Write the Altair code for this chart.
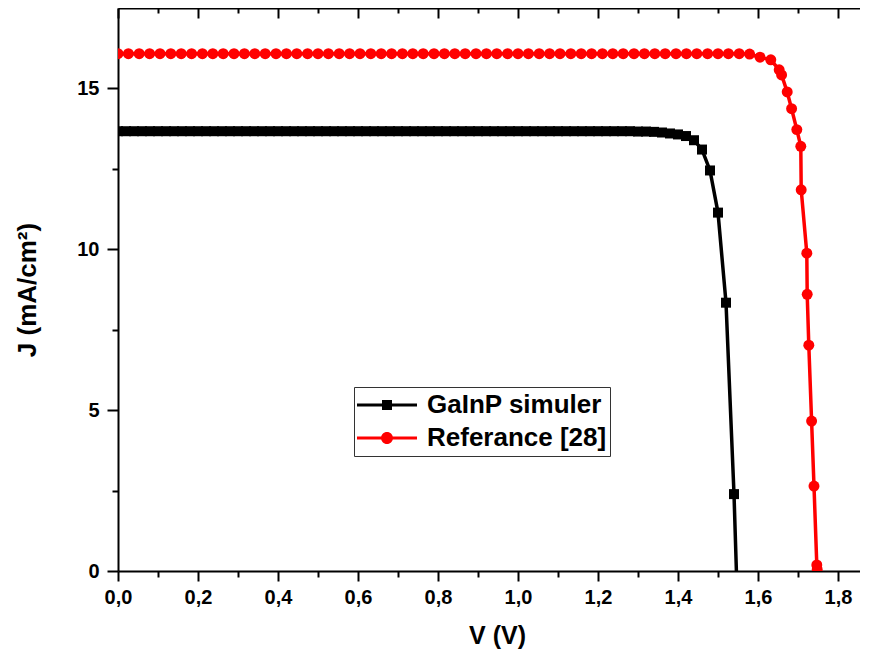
import altair as alt
import pandas as pd

FONT = "Liberation Sans"

# ---- data ----
black_v = [0.00, 0.02, 0.04, 0.06, 0.08, 0.10, 0.12, 0.14, 0.16, 0.18,
           0.20, 0.22, 0.24, 0.26, 0.28, 0.30, 0.32, 0.34, 0.36, 0.38,
           0.40, 0.42, 0.44, 0.46, 0.48, 0.50, 0.52, 0.54, 0.56, 0.58,
           0.60, 0.62, 0.64, 0.66, 0.68, 0.70, 0.72, 0.74, 0.76, 0.78,
           0.80, 0.82, 0.84, 0.86, 0.88, 0.90, 0.92, 0.94, 0.96, 0.98,
           1.00, 1.02, 1.04, 1.06, 1.08, 1.10, 1.12, 1.14, 1.16, 1.18,
           1.20, 1.22, 1.24, 1.26, 1.28, 1.30, 1.32, 1.34, 1.36, 1.38,
           1.40, 1.42, 1.44, 1.46, 1.48, 1.50, 1.52, 1.54]
black_j = [13.67, 13.67, 13.67, 13.67, 13.67, 13.67, 13.67, 13.67, 13.67, 13.67,
           13.67, 13.67, 13.67, 13.67, 13.67, 13.67, 13.67, 13.67, 13.67, 13.67,
           13.67, 13.67, 13.67, 13.67, 13.67, 13.67, 13.67, 13.67, 13.67, 13.67,
           13.67, 13.67, 13.67, 13.67, 13.67, 13.67, 13.67, 13.67, 13.67, 13.67,
           13.67, 13.67, 13.67, 13.67, 13.67, 13.67, 13.67, 13.67, 13.67, 13.67,
           13.67, 13.67, 13.67, 13.67, 13.67, 13.67, 13.67, 13.67, 13.67, 13.67,
           13.67, 13.67, 13.67, 13.67, 13.67, 13.66, 13.66, 13.65, 13.63, 13.60,
           13.57, 13.52, 13.39, 13.10, 12.45, 11.14, 8.34, 2.39]
black_end_v = [1.546]
black_end_j = [0.0]

red_v = [0.000, 0.026, 0.053, 0.079, 0.105, 0.132, 0.158, 0.184, 0.211, 0.237,
         0.263, 0.290, 0.316, 0.342, 0.368, 0.395, 0.421, 0.447, 0.474, 0.500,
         0.526, 0.553, 0.579, 0.605, 0.632, 0.658, 0.684, 0.711, 0.737, 0.763,
         0.790, 0.816, 0.842, 0.868, 0.895, 0.921, 0.947, 0.974, 1.000, 1.026,
         1.053, 1.079, 1.105, 1.132, 1.158, 1.184, 1.211, 1.237, 1.263, 1.290,
         1.316, 1.342, 1.368, 1.395, 1.421, 1.447, 1.474, 1.500, 1.526, 1.553,
         1.579, 1.605, 1.632, 1.653, 1.659, 1.673, 1.684, 1.697, 1.707, 1.708,
         1.722, 1.723, 1.727, 1.734, 1.740, 1.747, 1.748]
red_j = [16.08, 16.08, 16.08, 16.08, 16.08, 16.08, 16.08, 16.08, 16.08, 16.08,
         16.08, 16.08, 16.08, 16.08, 16.08, 16.08, 16.08, 16.08, 16.08, 16.08,
         16.08, 16.08, 16.08, 16.08, 16.08, 16.08, 16.08, 16.08, 16.08, 16.08,
         16.08, 16.08, 16.08, 16.08, 16.08, 16.08, 16.08, 16.08, 16.08, 16.08,
         16.08, 16.08, 16.08, 16.08, 16.08, 16.08, 16.08, 16.08, 16.08, 16.08,
         16.08, 16.08, 16.08, 16.08, 16.08, 16.08, 16.08, 16.08, 16.08, 16.08,
         16.07, 15.97, 15.89, 15.58, 15.42, 14.89, 14.37, 13.72, 13.20, 11.85,
         9.88, 8.60, 7.02, 4.66, 2.64, 0.19, 0.05]

series_names = ["GaInP simuler", "Referance [28]"]
series_colors = ["#000000", "#ff0000"]

x_ticks = [0.0, 0.1, 0.2, 0.3, 0.4, 0.5, 0.6, 0.7, 0.8, 0.9,
           1.0, 1.1, 1.2, 1.3, 1.4, 1.5, 1.6, 1.7, 1.8]
y_ticks = [0, 2.5, 5, 7.5, 10, 12.5, 15]

# ---- table ----
rows = []
for v, j in zip(black_v, black_j):
    rows.append({"V": v, "J": j, "series": series_names[0], "marker": True, "idx": len(rows)})
for v, j in zip(black_end_v, black_end_j):
    rows.append({"V": v, "J": j, "series": series_names[0], "marker": False, "idx": len(rows)})
for v, j in zip(red_v, red_j):
    rows.append({"V": v, "J": j, "series": series_names[1], "marker": True, "idx": len(rows)})
df = pd.DataFrame(rows)

xscale = alt.Scale(domain=[0, 1.855], nice=False, zero=False)
yscale = alt.Scale(domain=[0, 17.5], nice=False)
cscale = alt.Scale(domain=series_names, range=series_colors)

x_major = "round(datum.value*10) % 2 === 0"
y_major = "datum.value % 5 === 0"

main_x_axis = alt.Axis(
    values=x_ticks, title="V (V)", grid=False,
    labelExpr="round(datum.value*10) % 2 === 0 ? replace(format(datum.value, '.1f'), '.', ',') : ''",
    tickSize={"condition": {"test": x_major, "value": 10}, "value": 6},
    labelOverlap=False, labelFlush=False, labelBound=False,
    domainColor="black", domainWidth=2, tickColor="black", tickWidth=2,
    labelFont=FONT, labelFontSize=20, labelFontWeight="bold", labelColor="black",
    labelPadding=6,
    titleFont=FONT, titleFontSize=25, titleFontWeight="bold", titleColor="black",
    titleX=379, titleY=64, titleAlign="center", titleBaseline="middle",
)

top_axis = alt.Axis(
    orient="bottom", offset=-563, values=x_ticks, labels=False, title="", grid=False,
    tickSize={"condition": {"test": x_major, "value": 10}, "value": 5},
    domainColor="black", domainWidth=2, tickColor="black", tickWidth=2,
)

y_axis = alt.Axis(
    values=y_ticks, title="J (mA/cm²)", grid=False,
    labelExpr="datum.value % 5 === 0 ? format(datum.value, 'd') : ''",
    tickSize={"condition": {"test": y_major, "value": 11}, "value": 6},
    labelOverlap=False, labelFlush=False, labelBound=False,
    domainColor="black", domainWidth=2, tickColor="black", tickWidth=2,
    labelFont=FONT, labelFontSize=20, labelFontWeight="bold", labelColor="black",
    labelPadding=8,
    titleFont=FONT, titleFontSize=26, titleFontWeight="bold", titleColor="black",
    titleX=-91, titleY=281.5, titleAngle=270, titleAlign="center", titleBaseline="middle",
)

sq_path = "M-1,-0.05H1V0.05H-1Z M-0.167,-0.167H0.167V0.167H-0.167Z"
circ_path = "M-1,-0.05H1V0.05H-1Z M0.2,0A0.2,0.2,0,1,1,-0.2,0A0.2,0.2,0,1,1,0.2,0Z"

legend = alt.Legend(
    orient="none", legendX=236, legendY=379, title=None,
    symbolSize=3600, symbolStrokeWidth=0, symbolOpacity=1,
    clipHeight=30, symbolOffset=0, labelOffset=10,
    padding=3, rowPadding=3,
    strokeColor="#333333", fillColor="white",
    labelFont=FONT, labelFontSize=26, labelFontWeight="bold", labelColor="black",
    labelLimit=400,
)

base = alt.Chart(df)


def curve(name, colour, x_axis):
    return base.transform_filter(
        alt.datum.series == name
    ).mark_line(strokeWidth=3.5, color=colour, clip=True).encode(
        x=alt.X("V:Q", scale=xscale, axis=x_axis),
        y=alt.Y("J:Q", scale=yscale, axis=y_axis),
        order=alt.Order("idx:Q"),
    )


def markers(name, colour, shape, size):
    return base.transform_filter(
        (alt.datum.series == name) & alt.datum.marker
    ).mark_point(shape=shape, filled=True, size=size, opacity=1, color=colour, clip=True).encode(
        x=alt.X("V:Q", scale=xscale, axis=None),
        y=alt.Y("J:Q", scale=yscale, axis=y_axis),
    )


black_line = curve(series_names[0], series_colors[0], main_x_axis)
red_line = curve(series_names[1], series_colors[1], None)
black_pts = markers(series_names[0], series_colors[0], "square", 100)
red_pts = markers(series_names[1], series_colors[1], "circle", 120)

legend_layer = base.transform_filter("false").mark_point(filled=True, opacity=1).encode(
    x=alt.X("V:Q", scale=xscale, axis=top_axis),
    y=alt.Y("J:Q", scale=yscale, axis=y_axis),
    color=alt.Color("series:N", scale=cscale, legend=legend),
    shape=alt.Shape("series:N", scale=alt.Scale(domain=series_names, range=[sq_path, circ_path]), legend=legend),
)

chart = alt.layer(black_line, red_line, black_pts, red_pts, legend_layer).resolve_axis(
    x="independent"
).properties(
    width=742, height=563,
    autosize=alt.AutoSizeParams(type="none"),
    padding={"left": 110, "top": 0, "right": 0, "bottom": 80},
).configure(font=FONT).configure_view(stroke=None)

chart.save("out.html", embed_options={"renderer": "svg", "actions": False})
